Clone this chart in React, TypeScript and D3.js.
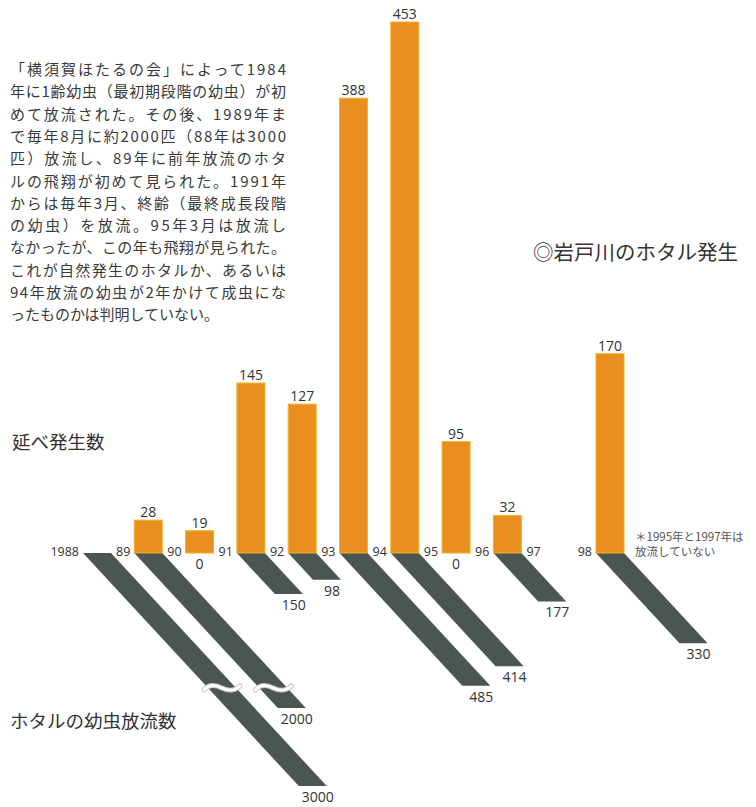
import React from "react";
import * as d3 from "d3";

// ---- data ----
const yearTicks = [1988, 1989, 1990, 1991, 1992, 1993, 1994, 1995, 1996, 1997, 1998];
const yearTickLabels = ["1988", "89", "90", "91", "92", "93", "94", "95", "96", "97", "98"];

const emergenceYears = [1989, 1990, 1991, 1992, 1993, 1994, 1995, 1996, 1998];
const emergenceValues = [28, 19, 145, 127, 388, 453, 95, 32, 170];

const releaseYears = [1988, 1989, 1990, 1991, 1992, 1993, 1994, 1995, 1996, 1998];
const releaseValues = [3000, 2000, 0, 150, 98, 485, 414, 0, 177, 330];

const paragraphLines = [
  "「横須賀ほたるの会」によって1984",
  "年に1齢幼虫（最初期段階の幼虫）が初",
  "めて放流された。その後、1989年ま",
  "で毎年8月に約2000匹（88年は3000",
  "匹）放流し、89年に前年放流のホタ",
  "ルの飛翔が初めて見られた。1991年",
  "からは毎年3月、終齢（最終成長段階",
  "の幼虫）を放流。95年3月は放流し",
  "なかったが、この年も飛翔が見られた。",
  "これが自然発生のホタルか、あるいは",
  "94年放流の幼虫が2年かけて成虫にな",
  "ったものかは判明していない。",
];

const titleText = "◎岩戸川のホタル発生";
const upperLabel = "延べ発生数";
const lowerLabel = "ホタルの幼虫放流数";
const noteLines = ["＊1995年と1997年は", "放流していない"];

// ---- layout ----
const W = 756;
const H = 807;
const BASE = 553;
const BAR_W = 28;
const SLOPE = 1.08;
const BREAK_OFFSET = 135;

const JP = "'Noto Sans CJK JP', 'Noto Sans', sans-serif";
const NUM = "'Open Sans', 'Noto Sans', sans-serif";
const TEXT = "#333333";
const ORANGE = "#E98F1F";
const ORANGE_EDGE = "#F2B027";
const BAND = "#4B5551";

export default function App() {
  const x = d3.scaleLinear().domain([1988, 1998]).range([83, 596]);
  const y = d3.scaleLinear().domain([0, 453]).range([BASE, 22]);
  // broken scale for the released larvae (vertical drop in px)
  const drop = d3.scaleLinear().domain([0, 490, 2000, 3000]).range([0, 134, 155, 233]);

  const bandPath = (x0: number, dy: number) => {
    const dx = dy / SLOPE;
    const p = d3.path();
    p.moveTo(x0, BASE);
    p.lineTo(x0 + BAR_W, BASE);
    p.lineTo(x0 + BAR_W + dx, BASE + dy);
    p.lineTo(x0 + dx, BASE + dy);
    p.closePath();
    return p.toString();
  };

  const breakPath = (x0: number) => {
    const yy = BASE + BREAK_OFFSET;
    const xa = x0 + BREAK_OFFSET / SLOPE - 4;
    const xb = xa + BAR_W + 8;
    const xm = (xa + xb) / 2;
    return `M${xa},${yy + 2} C${xa + 5},${yy - 4} ${xm - 6},${yy - 3} ${xm},${yy} S${xb - 5},${yy + 3} ${xb},${yy - 2}`;
  };

  return (
    <svg
      width={W}
      height={H}
      viewBox={`0 0 ${W} ${H}`}
      style={{ position: "absolute", left: 0, top: 0, background: "#ffffff" }}
    >
      <rect x={0} y={0} width={W} height={H} fill="#ffffff" />

      {/* paragraph */}
      <g fontFamily={JP} fontSize={15} fill="#3a3a3a">
        {paragraphLines.map((line, i) => (
          <text
            key={i}
            x={10}
            y={75 + i * 22.3}
            textLength={i < paragraphLines.length - 1 ? 276 : undefined}
            lengthAdjust="spacing"
          >
            {line}
          </text>
        ))}
      </g>

      {/* titles */}
      <text x={533} y={260} fontFamily={JP} fontSize={20.5} fill={TEXT}>
        {titleText}
      </text>
      <text x={12} y={449} fontFamily={JP} fontSize={18.5} fill={TEXT}>
        {upperLabel}
      </text>
      <text x={10} y={728} fontFamily={JP} fontSize={18.5} fill={TEXT}>
        {lowerLabel}
      </text>

      {/* release bands */}
      <g>
        {releaseYears.map((yr, i) => {
          const v = releaseValues[i];
          if (v === 0) return null;
          return <path key={yr} d={bandPath(x(yr), drop(v))} fill={BAND} />;
        })}
        {releaseYears.map((yr, i) => {
          const v = releaseValues[i];
          if (v <= 490) return null;
          const d = breakPath(x(yr));
          return (
            <g key={"br" + yr} fill="none" strokeLinecap="round">
              <path d={d} stroke="#c8c8c8" strokeWidth={5} />
              <path d={d} stroke="#ffffff" strokeWidth={3} />
            </g>
          );
        })}
      </g>

      {/* release labels */}
      <g fontFamily={NUM} fontSize={14} fill={TEXT} textAnchor="middle">
        {releaseYears.map((yr, i) => {
          const v = releaseValues[i];
          if (v === 0) {
            return (
              <text key={yr} x={x(yr) + BAR_W / 2} y={BASE + 16}>
                {v}
              </text>
            );
          }
          const dy = drop(v);
          const dx = dy / SLOPE;
          return (
            <text key={yr} x={x(yr) + dx + BAR_W / 2 + 5} y={BASE + dy + 16}>
              {v}
            </text>
          );
        })}
      </g>

      {/* emergence bars */}
      <g>
        {emergenceYears.map((yr, i) => (
          <rect
            key={yr}
            x={x(yr)}
            y={y(emergenceValues[i])}
            width={BAR_W}
            height={BASE - y(emergenceValues[i])}
            fill={ORANGE}
            stroke={ORANGE_EDGE}
            strokeWidth={1}
          />
        ))}
      </g>
      <g fontFamily={NUM} fontSize={14} fill={TEXT} textAnchor="middle">
        {emergenceYears.map((yr, i) => (
          <text key={yr} x={x(yr) + BAR_W / 2} y={y(emergenceValues[i]) - 3}>
            {emergenceValues[i]}
          </text>
        ))}
      </g>

      {/* year ticks */}
      <g fontFamily={NUM} fontSize={12.5} fill={TEXT} textAnchor="end">
        {yearTicks.map((yr, i) => (
          <text key={yr} x={x(yr) - 4} y={BASE + 3}>
            {yearTickLabels[i]}
          </text>
        ))}
      </g>

      {/* note */}
      <g fontFamily={JP} fontSize={11.5} fill="#555555">
        {noteLines.map((l, i) => (
          <text key={i} x={635} y={541 + i * 14.5}>
            {l}
          </text>
        ))}
      </g>
    </svg>
  );
}
